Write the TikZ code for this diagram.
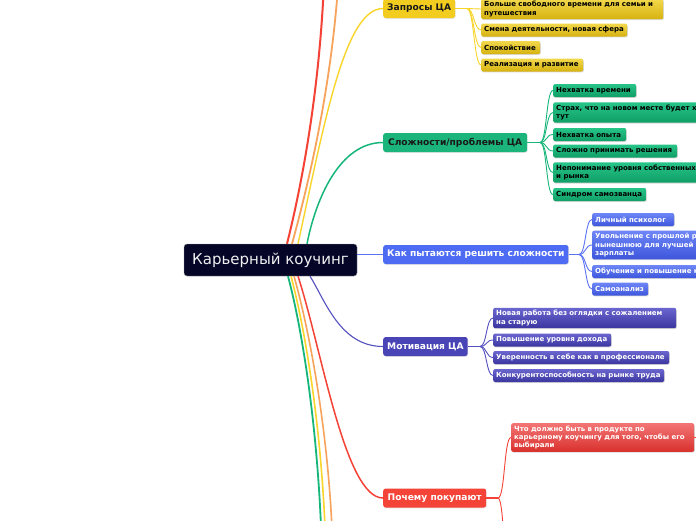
\documentclass[tikz,border=0pt]{standalone}
\usepackage{fontspec}
\setmainfont{DejaVu Sans}
\usetikzlibrary{shadows}
\newcommand\nbx[1]{\mbox{#1}}
\definecolor{rootc}{HTML}{050528}
\definecolor{lred}{HTML}{F44336}
\definecolor{lorange}{HTML}{F7A35C}
\definecolor{lyellow}{HTML}{F8D52B}
\definecolor{lgreen}{HTML}{16B67B}
\definecolor{lblue}{HTML}{5B73F2}
\definecolor{lpurple}{HTML}{5450BF}
\definecolor{myel}{HTML}{F2CD20}
\definecolor{mgreen}{HTML}{1BB57C}
\definecolor{mblue}{HTML}{4E6CF3}
\definecolor{mpurple}{HTML}{4A45B6}
\definecolor{mred}{HTML}{F34437}
\definecolor{yT}{HTML}{F2D84C}\definecolor{yB}{HTML}{D6B20F}
\definecolor{gT}{HTML}{27C488}\definecolor{gB}{HTML}{0F9E66}
\definecolor{bT}{HTML}{6E86F6}\definecolor{bB}{HTML}{3D56DC}
\definecolor{pT}{HTML}{6B66CF}\definecolor{pB}{HTML}{3B369F}
\definecolor{rT}{HTML}{F27575}\definecolor{rB}{HTML}{D9302C}
\tikzset{
  rootbox/.style={rounded corners=3pt, fill=rootc, draw=black!40, line width=0.4pt,
    text=white!94!black, font=\fontsize{15}{18}\selectfont, minimum width=173pt,
    minimum height=32pt, inner sep=0pt},
  mainbox/.style={rounded corners=2.5pt, anchor=west, font=\fontsize{9.1}{11}\selectfont\bfseries,
    inner xsep=4pt, inner ysep=0pt, minimum height=19pt,
    drop shadow={shadow xshift=0.5pt, shadow yshift=-0.8pt, opacity=0.2}},
  leaf/.style={rounded corners=2pt, anchor=west, align=left,
    font=\fontsize{7.0}{8.3}\selectfont\bfseries, inner xsep=3pt, inner ysep=2.5pt,
    minimum height=13pt,
    drop shadow={shadow xshift=0.6pt, shadow yshift=-0.9pt, opacity=0.3}},
  yleaf/.style={leaf, top color=yT, bottom color=yB, text=black},
  gleaf/.style={leaf, top color=gT, bottom color=gB, text=black},
  bleaf/.style={leaf, top color=bT, bottom color=bB, text=white},
  pleaf/.style={leaf, top color=pT, bottom color=pB, text=white},
  rleaf/.style={leaf, top color=rT, bottom color=rB, text=white},
  ymain/.style={mainbox, fill=myel, text=black!90},
  gmain/.style={mainbox, fill=mgreen, text=black!90},
  bmain/.style={mainbox, fill=mblue, text=white},
  pmain/.style={mainbox, fill=mpurple, text=white},
  rmain/.style={mainbox, fill=mred, text=white},
  sub/.style={line width=0.9pt},
}
\begin{document}
\begin{tikzpicture}[x=1pt,y=-1pt]
\clip (0,0) rectangle (696,520);
\fill[white] (0,0) rectangle (696,520);

% root
\node[rootbox] (root) at (270.5,260) {Карьерный коучинг};

% main nodes
\node[ymain, minimum width=72pt] (y) at (383,8.5) {Запросы ЦА};
\node[gmain, minimum width=144pt] (g) at (383,142.5) {Сложности/проблемы ЦА};
\node[bmain, minimum width=183pt] (b) at (383,254.5) {Как пытаются решить сложности};
\node[pmain, minimum width=84pt] (p) at (383,346.5) {Мотивация ЦА};
\node[rmain, minimum width=103pt] (r) at (383,498) {Почему покупают};

% yellow leaves
\node[yleaf, text width=176pt] (y1) at (481,9) {\nbx{Больше свободного времени для семьи и}\\\nbx{путешествия}};
\node[yleaf, text width=140pt] (y2) at (481,30) {\nbx{Смена деятельности, новая сфера}};
\node[yleaf, text width=53pt] (y3) at (481,47.5) {\nbx{Спокойствие}};
\node[yleaf, text width=96pt] (y4) at (481,65) {\nbx{Реализация и развитие}};

% green leaves
\node[gleaf, text width=77pt] (g1) at (553,90.5) {\nbx{Нехватка времени}};
\node[gleaf] (g2) at (553,112.5) {Страх, что на новом месте будет хуже, чем\\тут};
\node[gleaf, text width=67pt] (g3) at (553,134.5) {\nbx{Нехватка опыта}};
\node[gleaf, text width=118pt] (g4) at (553,151) {\nbx{Сложно принимать решения}};
\node[gleaf] (g5) at (553,172.5) {Непонимание уровня собственных навыков\\и рынка};
\node[gleaf, text width=87pt] (g6) at (553,194.5) {\nbx{Синдром самозванца}};

% blue leaves
\node[bleaf, text width=76pt] (b1) at (592,219.5) {\nbx{Личный психолог}};
\node[bleaf] (b2) at (592,245) {Увольнение с прошлой работы на\\нынешнюю для лучшей\\зарплаты};
\node[bleaf] (b3) at (592,271.5) {Обучение и повышение квалификации};
\node[bleaf, text width=50pt] (b4) at (592,289) {\nbx{Самоанализ}};

% purple leaves
\node[pleaf, text width=177pt] (p1) at (493,318) {\nbx{Новая работа без оглядки с сожалением}\\\nbx{на старую}};
\node[pleaf, text width=112pt] (p2) at (493,340) {\nbx{Повышение уровня дохода}};
\node[pleaf, text width=170pt] (p3) at (493,357.5) {\nbx{Уверенность в себе как в профессионале}};
\node[pleaf, text width=165pt] (p4) at (493,375.5) {\nbx{Конкурентоспособность на рынке труда}};

% red leaf
\node[rleaf, text width=177pt] (r1) at (511,437.5) {\nbx{Что должно быть в продукте по}\\\nbx{карьерному коучингу для того, чтобы его}\\\nbx{выбирали}};

% off-picture ends
\coordinate (topR) at (325,-50);
\coordinate (topO) at (340,-50);
\coordinate (botG) at (322,560);
\coordinate (botY) at (326,560);
\coordinate (botO) at (333,560);
\coordinate (rdown) at (511,600);
\coordinate (rout) at (720,437.5);

% junctions
\coordinate (yj) at (467,8.5);
\coordinate (gj) at (540,142.5);
\coordinate (bj) at (579,254.5);
\coordinate (pj) at (480,346.5);
\coordinate (rj) at (498,498);

% root connectors (top)
\draw[lred, line width=2pt] ([xshift=16.5pt]root.north) .. controls (307,164) and (323,60) .. (topR);
\draw[lorange, line width=1.8pt] ([xshift=21.5pt]root.north) .. controls (314,164) and (336,60) .. (topO);
\draw[lyellow, line width=1.4pt] ([xshift=27.5pt]root.north) .. controls (325,120) and (345,8.5) .. (y.west);
\draw[lgreen, line width=1.5pt] ([xshift=36.5pt]root.north) .. controls (316,198) and (340,142.5) .. (g.west);
% middle
\draw[lblue, line width=1pt] (root.east |- b.west) -- (b.west);
% bottom
\draw[lgreen, line width=1.8pt] ([xshift=17.5pt]root.south) .. controls (305,340) and (320,450) .. (botG);
\draw[lyellow, line width=1.6pt] ([xshift=20.5pt]root.south) .. controls (308,340) and (324,450) .. (botY);
\draw[lorange, line width=1.6pt] ([xshift=23.5pt]root.south) .. controls (312,340) and (331,450) .. (botO);
\draw[lred, line width=1.5pt] ([xshift=27.5pt]root.south) .. controls (322,350) and (345,498) .. (r.west);
\draw[lpurple, line width=1.1pt] ([xshift=39.5pt]root.south) .. controls (325,300) and (340,346.5) .. (p.west);

% yellow branch
\draw[lyellow, line width=1.3pt] (y.east) -- (yj);
\foreach \c in {y1,y2,y3,y4}
  \draw[lyellow, sub] (yj) .. controls +(7,0) and +(-7,0) .. (\c.west);
% green branch
\draw[lgreen, line width=1.3pt] (g.east) -- (gj);
\foreach \c in {g1,g2,g3,g4,g5,g6}
  \draw[lgreen, sub] (gj) .. controls +(7,0) and +(-7,0) .. (\c.west);
% blue branch
\draw[lblue, line width=1.3pt] (b.east) -- (bj);
\foreach \c in {b1,b2,b3,b4}
  \draw[lblue, sub] (bj) .. controls +(7,0) and +(-7,0) .. (\c.west);
% purple branch
\draw[lpurple, line width=1.3pt] (p.east) -- (pj);
\foreach \c in {p1,p2,p3,p4}
  \draw[lpurple, sub] (pj) .. controls +(7,0) and +(-7,0) .. (\c.west);
% red branch
\draw[lred, line width=1.3pt] (r.east) -- (rj);
\draw[lred, sub] (rj) .. controls +(7,0) and +(-7,0) .. (r1.west);
\draw[lred, sub] (rj) .. controls +(7,0) and +(-7,0) .. (rdown);
\draw[lred, sub] (r1.east) -- (rout);
\end{tikzpicture}
\end{document}
